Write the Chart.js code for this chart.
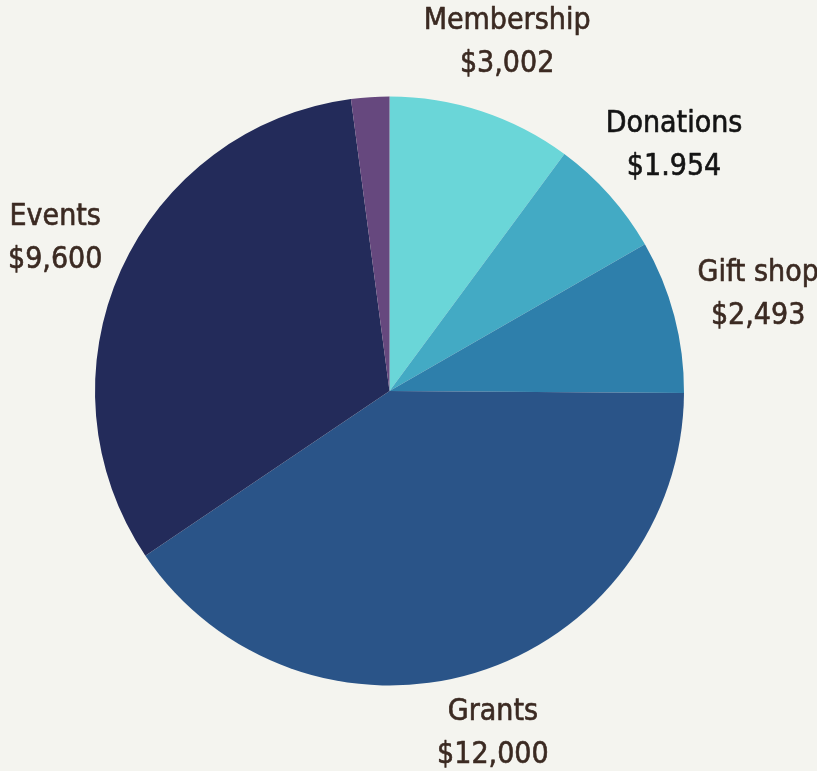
<!DOCTYPE html>
<html>
<head>
<meta charset="utf-8">
<script src="https://cdn.jsdelivr.net/npm/chart.js@4/dist/chart.umd.min.js"></script>
<style>
  html, body { margin: 0; padding: 0; background: #f4f4ef; }
  #wrap { width: 817px; height: 771px; }
</style>
</head>
<body>
<div id="wrap"><canvas id="c" width="817" height="771"></canvas></div>
<script>
const categories = ["Membership", "Donations", "Gift shop", "Grants", "Events", ""];
const values = [3002, 1954, 2493, 12000, 9600, 620];
const valueLabels = ["$3,002", "$1.954", "$2,493", "$12,000", "$9,600", ""];
const sliceColors = ["#6ad6d8", "#43aac4", "#2e7fab", "#2a5488", "#232b5a", "#66487e"];
const labelColors = ["#3b2a22", "#141414", "#3b2a22", "#3b2a22", "#3b2a22", "#3b2a22"];

const outsideLabels = {
  id: 'outsideLabels',
  afterDatasetsDraw(chart) {
    const ctx = chart.ctx;
    const meta = chart.getDatasetMeta(0);
    const lineH = 43;
    ctx.save();
    ctx.font = '30px "DejaVu Sans Condensed", "DejaVu Sans", sans-serif';
    ctx.textAlign = 'center';
    ctx.textBaseline = 'middle';
    ctx.lineWidth = 0.6;
    ctx.lineJoin = 'round';
    meta.data.forEach((arc, i) => {
      if (!categories[i]) return;
      const mid = (arc.startAngle + arc.endAngle) / 2;
      const ux = Math.cos(mid), uy = Math.sin(mid);
      const R = arc.outerRadius + 27;
      const w = Math.max(ctx.measureText(categories[i]).width, ctx.measureText(valueLabels[i]).width);
      const k = (1 + Math.abs(ux)) / 2;
      const x = arc.x + ux * R + ux * k * w / 2;
      const y = arc.y + uy * (R + 41) - 4;
      ctx.fillStyle = labelColors[i];
      ctx.strokeStyle = labelColors[i];
      ctx.fillText(categories[i], x, y - lineH / 2);
      ctx.strokeText(categories[i], x, y - lineH / 2);
      ctx.fillText(valueLabels[i], x, y + lineH / 2);
      ctx.strokeText(valueLabels[i], x, y + lineH / 2);
    });
    ctx.restore();
  }
};

new Chart(document.getElementById('c'), {
  type: 'pie',
  data: {
    labels: categories,
    datasets: [{
      data: values,
      backgroundColor: sliceColors,
      borderWidth: 0
    }]
  },
  options: {
    responsive: false,
    animation: false,
    layout: { padding: { top: 96, bottom: 85, left: 95, right: 133 } },
    plugins: { legend: { display: false }, tooltip: { enabled: false } }
  },
  plugins: [outsideLabels]
});
</script>
</body>
</html>
